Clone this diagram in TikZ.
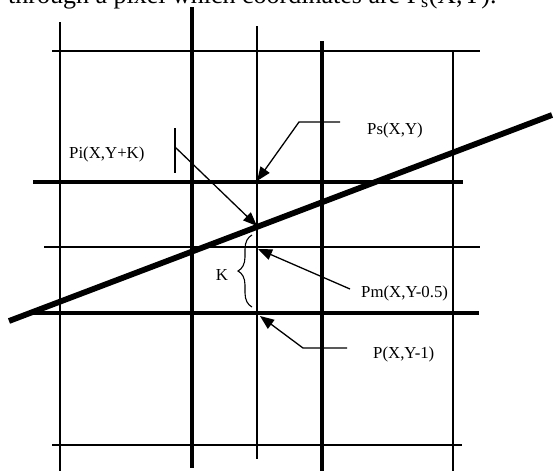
\documentclass[tikz,border=0pt]{standalone}
\usepackage{fontspec}
\setmainfont{Liberation Serif}
\usetikzlibrary{arrows.meta,decorations.pathreplacing}
\begin{document}
\begin{tikzpicture}[x=1pt,y=-1pt,
  thinline/.style={line width=1.3pt},
  thickline/.style={line width=4pt},
  slopeline/.style={line width=5.8pt},
  leader/.style={line width=1.3pt,-{Triangle[length=14pt,width=11pt]}},
  lbl/.style={font=\fontsize{16.8}{19}\selectfont, inner sep=0pt, anchor=west}]
\useasboundingbox (0,0) rectangle (556,471);
\clip (0,0) rectangle (556,471);
\node[anchor=base west, inner sep=0pt, font=\fontsize{26}{30}\selectfont] (caption) at (8,4) {through a pixel which coordinates are P\textsubscript{s}(X,Y).};
% vertical grid lines
\draw[thinline]  (60,22)  -- (60,471);
\draw[thickline] (192,7)  -- (192,468);
\draw[thinline]  (257,26) -- (257,459);
\draw[thickline] (322,41) -- (322,471);
\draw[thinline]  (453,51) -- (453,471);
% horizontal grid lines
\draw[thinline]  (52,51)  -- (480,51);
\draw[thickline] (33,182) -- (463,182);
\draw[thinline]  (44,247) -- (480,247);
\draw[thickline] (33,313) -- (479,313);
\draw[thinline]  (52,445) -- (462,445);
% the line
\draw[slopeline] (9,321) -- (552,115);
% labels
\node[lbl] (ps) at (367,130) {Ps(X,Y)};
\node[lbl] (pi) at (69,154) {Pi(X,Y+K)};
\node[lbl] (pm) at (361,293) {Pm(X,Y-0.5)};
\node[lbl] (p)  at (373,354) {P(X,Y-1)};
\node[lbl, anchor=center] (k) at (222,275) {K};
% leaders
\coordinate (psEnd)  at (340,122);
\coordinate (psBend) at (299,122);
\coordinate (psTip)  at (257,181);
\draw[leader] (psEnd) -- (psBend) -- (psTip);
\coordinate (piTickTop) at (175,128);
\coordinate (piTickBot) at (175,173);
\coordinate (piStart) at (175,147);
\coordinate (piTip) at (257,226);
\draw[thinline] (piTickTop) -- (piTickBot);
\draw[leader] (piStart) -- (piTip);
\coordinate (pmStart) at (350,289);
\coordinate (pmTip) at (258,249);
\draw[leader] (pmStart) -- (pmTip);
\coordinate (pEnd) at (347,348);
\coordinate (pBend) at (303,348);
\coordinate (pTip) at (260,316);
\draw[leader] (pEnd) -- (pBend) -- (pTip);
% brace
\coordinate (braceBot) at (252,307);
\coordinate (braceTop) at (252,235);
\draw[line width=1.1pt, decorate, decoration={brace, amplitude=14pt}] (braceBot) -- (braceTop);
\end{tikzpicture}
\end{document}
